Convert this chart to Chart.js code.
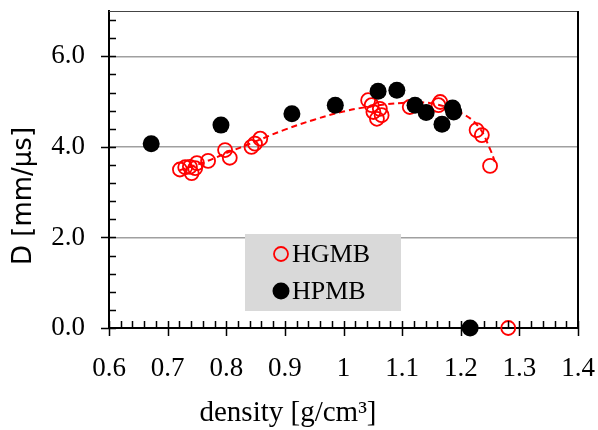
<!DOCTYPE html>
<html>
<head>
<meta charset="utf-8">
<script src="https://cdn.jsdelivr.net/npm/chart.js@4/dist/chart.umd.min.js"></script>
<style>
  body { margin: 0; background: #fff; }
  canvas { display: block; }
</style>
</head>
<body>
<canvas id="dChart" width="598" height="430"></canvas>
<script>
// detonation velocity vs. density, two microballoon types
const hgmbDensity = [0.721, 0.730, 0.738, 0.741, 0.747, 0.750, 0.769, 0.798, 0.806, 0.843, 0.849, 0.858,
  1.042, 1.048, 1.051, 1.057, 1.062, 1.065, 1.113, 1.162, 1.165, 1.227, 1.236, 1.250, 1.281];
const hgmbD = [3.50, 3.55, 3.56, 3.42, 3.53, 3.64, 3.69, 3.93, 3.76, 4.00, 4.07, 4.18,
  5.03, 4.92, 4.77, 4.62, 4.84, 4.70, 4.88, 4.92, 4.99, 4.37, 4.26, 3.58, 0.0];

const hpmbDensity = [0.672, 0.791, 0.912, 0.986, 1.059, 1.091, 1.122, 1.141, 1.168, 1.186, 1.188, 1.216];
const hpmbD = [4.07, 4.48, 4.73, 4.92, 5.23, 5.25, 4.92, 4.76, 4.50, 4.86, 4.77, 0.0];

// dashed trend through the HGMB points
const fitDensity = [0.72, 0.76, 0.80, 0.85, 0.90, 0.95, 1.00, 1.05, 1.10, 1.15, 1.20, 1.23, 1.25, 1.26];
const fitD = [3.48, 3.65, 3.86, 4.12, 4.38, 4.60, 4.78, 4.90, 4.97, 4.96, 4.75, 4.45, 3.95, 3.60];

const xTicks = [0.6, 0.7, 0.8, 0.9, 1.0, 1.1, 1.2, 1.3, 1.4];
const yTicks = [0, 2, 4, 6];

const xTitle = 'density [g/cm³]';
const yTitle = 'D [mm/μs]';

const toPoints = (xs, ys) => xs.map((x, i) => ({ x: x, y: ys[i] }));

const serif = "'Liberation Serif', 'Times New Roman', serif";

// let layout.padding alone decide where the plot area sits
const noPad = s => {
  s.paddingTop = 0;
  s.paddingBottom = 0;
  s.paddingLeft = 0;
  s.paddingRight = 0;
};

// top/right frame, tick marks crossing the axes, minor ticks, axis titles
const frameTicks = {
  id: 'frameTicks',
  afterDraw(chart) {
    const { ctx, chartArea: a, scales: { x, y } } = chart;
    ctx.save();
    ctx.strokeStyle = '#444';
    ctx.lineWidth = 1;
    ctx.beginPath();
    ctx.moveTo(a.left, a.top + 0.5);
    ctx.lineTo(a.right, a.top + 0.5);
    ctx.stroke();
    ctx.strokeStyle = '#000';
    ctx.lineWidth = 2;
    ctx.beginPath();
    ctx.moveTo(a.right, a.top);
    ctx.lineTo(a.right, a.bottom);
    ctx.stroke();

    ctx.lineWidth = 1.5;
    ctx.beginPath();
    for (let i = 0; i <= 40; i++) {
      const px = Math.round(x.getPixelForValue(0.6 + i * 0.02)) + 0.5;
      ctx.moveTo(px, a.bottom - 7);
      ctx.lineTo(px, i % 5 === 0 ? a.bottom + 8 : a.bottom);
    }
    for (let i = 0; i <= 17; i++) {
      const py = Math.round(y.getPixelForValue(i * 0.4)) + 0.5;
      if (i % 5 === 0) {
        ctx.moveTo(a.left - 8, py);
        ctx.lineTo(a.left + 7, py);
      } else {
        ctx.moveTo(a.left, py);
        ctx.lineTo(a.left + 7, py);
      }
    }
    ctx.stroke();

    ctx.fillStyle = '#000';
    ctx.font = '29px ' + serif;
    ctx.textAlign = 'center';
    ctx.textBaseline = 'alphabetic';
    ctx.fillText(xTitle, 288, 421);

    ctx.translate(24, 196);
    ctx.rotate(-Math.PI / 2);
    ctx.font = "26px 'DejaVu Sans', sans-serif";
    ctx.textBaseline = 'middle';
    ctx.fillText(yTitle, 0, 0);
    ctx.restore();
  }
};

// grey legend box inside the plot
const boxLegend = {
  id: 'boxLegend',
  beforeDatasetsDraw(chart) {
    const { ctx } = chart;
    ctx.save();
    ctx.fillStyle = '#d9d9d9';
    ctx.fillRect(245, 234, 156, 77);
    const entries = [chart.data.datasets[0], chart.data.datasets[1]];
    entries.forEach((ds, i) => {
      const cy = 254 + i * 37;
      ctx.beginPath();
      ctx.arc(281, cy, ds.pointRadius, 0, Math.PI * 2);
      ctx.fillStyle = ds.pointBackgroundColor;
      ctx.fill();
      if (ds.pointBorderWidth > 0) {
        ctx.lineWidth = ds.pointBorderWidth;
        ctx.strokeStyle = ds.pointBorderColor;
        ctx.stroke();
      }
      ctx.fillStyle = '#000';
      ctx.font = '26px ' + serif;
      ctx.textAlign = 'left';
      ctx.textBaseline = 'alphabetic';
      ctx.fillText(ds.label, 292, cy + 8);
    });
    ctx.restore();
  }
};

new Chart(document.getElementById('dChart'), {
  type: 'scatter',
  data: {
    datasets: [
      {
        label: 'HGMB',
        data: toPoints(hgmbDensity, hgmbD),
        pointRadius: 7,
        pointBorderWidth: 1.8,
        pointBorderColor: '#ff0000',
        pointBackgroundColor: 'rgba(0,0,0,0)',
        order: 1,
        clip: false
      },
      {
        label: 'HPMB',
        data: toPoints(hpmbDensity, hpmbD),
        pointRadius: 8.5,
        pointBorderWidth: 0,
        pointBorderColor: '#000',
        pointBackgroundColor: '#000',
        order: 0,
        clip: false
      },
      {
        label: 'fit',
        data: toPoints(fitDensity, fitD),
        showLine: true,
        pointRadius: 0,
        borderColor: '#ff0000',
        borderWidth: 2,
        borderDash: [6, 4],
        tension: 0.4,
        order: 2
      }
    ]
  },
  options: {
    responsive: false,
    devicePixelRatio: 1,
    animation: false,
    layout: { padding: { top: 11, right: 20, left: 0, bottom: 0 } },
    plugins: {
      legend: { display: false },
      tooltip: { enabled: false }
    },
    scales: {
      x: {
        min: 0.6,
        max: 1.4,
        afterBuildTicks: s => { s.ticks = xTicks.map(v => ({ value: v })); },
        afterFit: s => { s.height = 102; noPad(s); },
        grid: { display: false },
        border: { display: true, color: '#000', width: 2 },
        ticks: {
          color: '#000',
          padding: 17,
          font: { family: serif, size: 27 },
          callback: v => String(Math.round(v * 10) / 10)
        }
      },
      y: {
        min: 0,
        max: 7,
        afterBuildTicks: s => { s.ticks = yTicks.map(v => ({ value: v })); },
        afterFit: s => { s.width = 109; noPad(s); },
        grid: {
          drawTicks: false,
          color: c => (c.tick && c.tick.value > 0) ? '#a0a0a0' : 'rgba(0,0,0,0)',
          lineWidth: 1.5
        },
        border: { display: true, color: '#000', width: 2 },
        ticks: {
          color: '#000',
          padding: 24,
          font: { family: serif, size: 27 },
          callback: v => v.toFixed(1)
        }
      }
    }
  },
  plugins: [frameTicks, boxLegend]
});
</script>
</body>
</html>
